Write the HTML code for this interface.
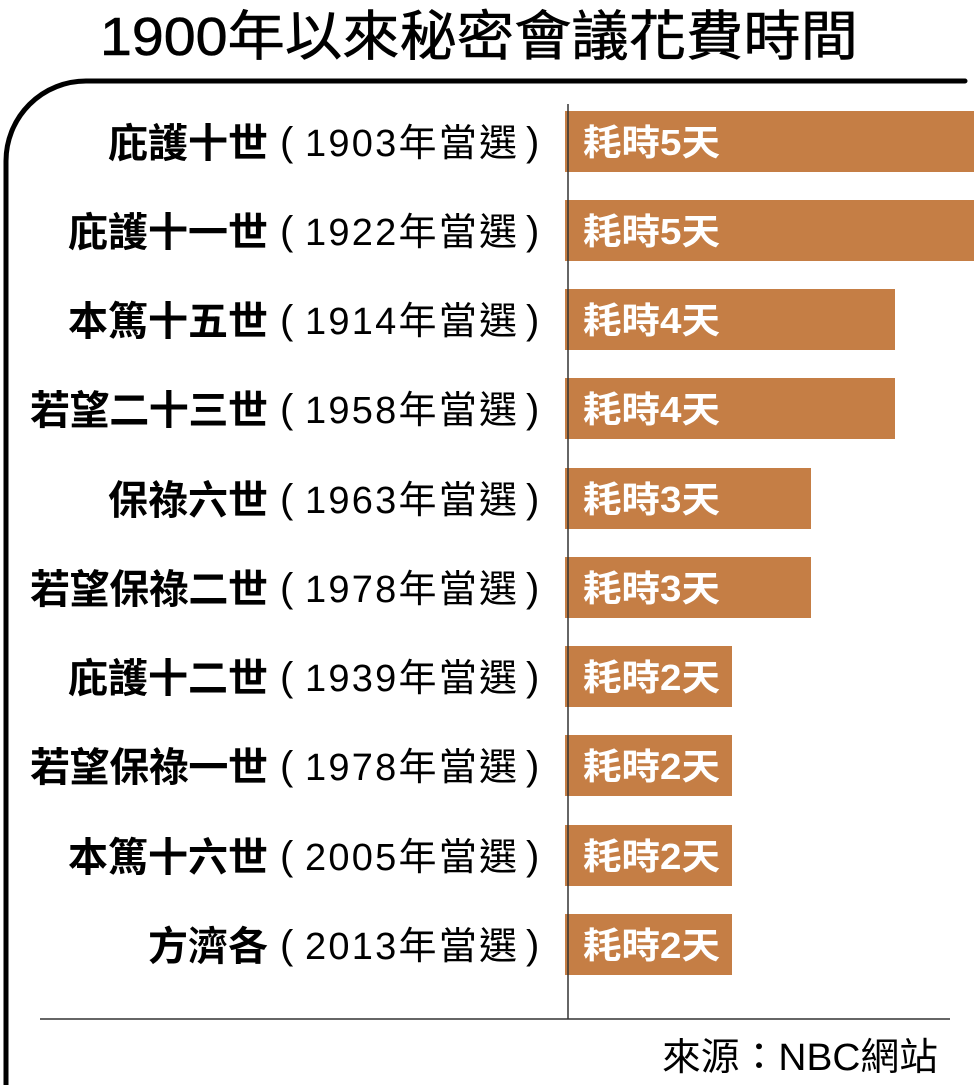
<!DOCTYPE html>
<html><head><meta charset="utf-8"><style>
html,body{margin:0;padding:0;background:#fff;}
svg{display:block;}
</style></head><body>
<svg width="974" height="1085" viewBox="0 0 974 1085" xmlns="http://www.w3.org/2000/svg" font-family="'Liberation Sans','Noto Sans CJK TC',sans-serif">
<text x="100" y="55" font-size="54" textLength="758" lengthAdjust="spacingAndGlyphs" fill="#000" stroke="#000" stroke-width="0.6">1900年以來秘密會議花費時間</text>
<path d="M965 81 H86 A80 80 0 0 0 6 161 V1085" fill="none" stroke="#000" stroke-width="5" stroke-linecap="round"/>
<g fill="#C57E45">
<rect x="565" y="111" width="409" height="61"/>
<rect x="565" y="200" width="409" height="61"/>
<rect x="565" y="289" width="330" height="61"/>
<rect x="565" y="378" width="330" height="61"/>
<rect x="565" y="468" width="246" height="61"/>
<rect x="565" y="557" width="246" height="61"/>
<rect x="565" y="646" width="167" height="61"/>
<rect x="565" y="735" width="167" height="61"/>
<rect x="565" y="825" width="167" height="61"/>
<rect x="565" y="914" width="167" height="61"/>
</g>
<line x1="568" y1="104" x2="568" y2="1019" stroke="#333" stroke-width="1.5"/>
<line x1="40" y1="1019" x2="950" y2="1019" stroke="#333" stroke-width="1.5"/>
<g font-size="40" font-weight="bold" fill="#000" lengthAdjust="spacingAndGlyphs">
<text x="108" y="157" textLength="160">庇護十世</text>
<text x="68" y="246" textLength="200">庇護十一世</text>
<text x="68" y="335" textLength="200">本篤十五世</text>
<text x="30" y="424" textLength="238">若望二十三世</text>
<text x="108" y="514" textLength="160">保祿六世</text>
<text x="30" y="603" textLength="238">若望保祿二世</text>
<text x="68" y="692" textLength="200">庇護十二世</text>
<text x="30" y="781" textLength="238">若望保祿一世</text>
<text x="68" y="871" textLength="200">本篤十六世</text>
<text x="148" y="960" textLength="120">方濟各</text>
</g>
<g font-size="40" fill="#000">
<text x="280" y="155">(</text><text x="526" y="155">)</text>
<text x="280" y="244">(</text><text x="526" y="244">)</text>
<text x="280" y="333">(</text><text x="526" y="333">)</text>
<text x="280" y="422">(</text><text x="526" y="422">)</text>
<text x="280" y="512">(</text><text x="526" y="512">)</text>
<text x="280" y="601">(</text><text x="526" y="601">)</text>
<text x="280" y="690">(</text><text x="526" y="690">)</text>
<text x="280" y="779">(</text><text x="526" y="779">)</text>
<text x="280" y="869">(</text><text x="526" y="869">)</text>
<text x="280" y="958">(</text><text x="526" y="958">)</text>
</g>
<g font-size="38" fill="#000" lengthAdjust="spacingAndGlyphs">
<text x="305" y="156" textLength="212">1903年當選</text>
<text x="305" y="245" textLength="212">1922年當選</text>
<text x="305" y="334" textLength="212">1914年當選</text>
<text x="305" y="423" textLength="212">1958年當選</text>
<text x="305" y="513" textLength="212">1963年當選</text>
<text x="305" y="602" textLength="212">1978年當選</text>
<text x="305" y="691" textLength="212">1939年當選</text>
<text x="305" y="780" textLength="212">1978年當選</text>
<text x="305" y="870" textLength="212">2005年當選</text>
<text x="305" y="959" textLength="212">2013年當選</text>
</g>
<g font-size="36" font-weight="bold" fill="#fff">
<text x="583" y="155" textLength="137" lengthAdjust="spacingAndGlyphs">耗時5天</text>
<text x="583" y="244" textLength="137" lengthAdjust="spacingAndGlyphs">耗時5天</text>
<text x="583" y="333" textLength="137" lengthAdjust="spacingAndGlyphs">耗時4天</text>
<text x="583" y="422" textLength="137" lengthAdjust="spacingAndGlyphs">耗時4天</text>
<text x="583" y="512" textLength="137" lengthAdjust="spacingAndGlyphs">耗時3天</text>
<text x="583" y="601" textLength="137" lengthAdjust="spacingAndGlyphs">耗時3天</text>
<text x="583" y="690" textLength="137" lengthAdjust="spacingAndGlyphs">耗時2天</text>
<text x="583" y="779" textLength="137" lengthAdjust="spacingAndGlyphs">耗時2天</text>
<text x="583" y="869" textLength="137" lengthAdjust="spacingAndGlyphs">耗時2天</text>
<text x="583" y="958" textLength="137" lengthAdjust="spacingAndGlyphs">耗時2天</text>
</g>
<text x="662" y="1070" font-size="38" fill="#000" textLength="276" lengthAdjust="spacingAndGlyphs">來源：NBC網站</text>
</svg>
</body></html>
